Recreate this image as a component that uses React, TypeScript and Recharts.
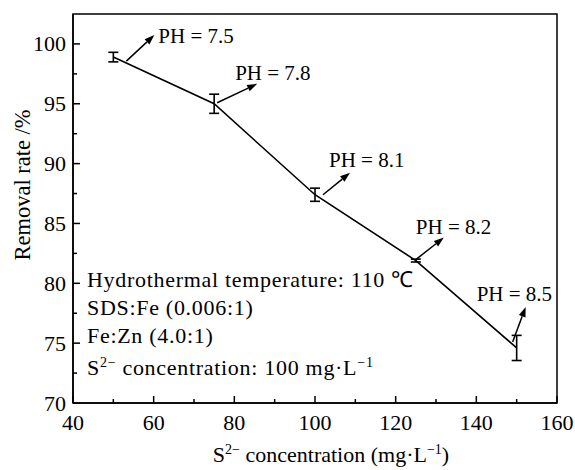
import React from 'react';
import { LineChart, Line, XAxis, YAxis, ErrorBar, ReferenceArea, LabelList } from 'recharts';

document.body.style.margin = '0';

// values
const concentration = [50, 75, 100, 125, 150];
const removalRate = [98.9, 95.0, 87.4, 81.9, 74.6];
const removalError = [0.4, 0.8, 0.55, 0.12, 1.05];
const phLabels = ['7.5', '7.8', '8.1', '8.2', '8.5'];

const xTicks = [40, 50, 60, 70, 80, 90, 100, 110, 120, 130, 140, 150, 160];
const yTicks = [70, 72.5, 75, 77.5, 80, 82.5, 85, 87.5, 90, 92.5, 95, 97.5, 100];

const conditions = ['Hydrothermal temperature: 110 \u2103', 'SDS:Fe (0.006:1)', 'Fe:Zn (4.0:1)'];

const data = concentration.map((c, i) => ({
  c,
  rate: removalRate[i],
  err: removalError[i],
  ph: phLabels[i],
}));

const FONT = 'Liberation Serif';
const W = 575;
const H = 470;

// arrow start / end / text offsets from each point, px
const phArrows = [
  { sx: 13, sy: 4, ex: 41, ey: -22, tx: 45, ty: -21 },
  { sx: 3, sy: -1, ex: 43, ey: -20, tx: 21, ty: -31 },
  { sx: 8, sy: 0, ex: 35, ey: -22, tx: 14, ty: -35 },
  { sx: 0, sy: -1, ex: 28, ey: -23, tx: 0, ty: -34 },
  { sx: -4, sy: -6, ex: 9, ey: -41, tx: -40, ty: -54 },
];

const XTick = (props: any) => {
  const { x, y, payload } = props;
  const major = payload.value % 20 === 0;
  return (
    <g>
      <line x1={x} x2={x} y1={y} y2={y - (major ? 7 : 4)} stroke="#000" strokeWidth={1.5} />
      {major && (
        <text x={x} y={y + 27} textAnchor="middle" style={{ fontFamily: FONT }} fontSize={22} fill="#000">
          {payload.value}
        </text>
      )}
    </g>
  );
};

const YTick = (props: any) => {
  const { x, y, payload } = props;
  const major = payload.value % 5 === 0;
  return (
    <g>
      <line x1={x} x2={x + (major ? 7 : 4)} y1={y} y2={y} stroke="#000" strokeWidth={1.5} />
      {major && (
        <text x={x - 7} y={y + 7.5} textAnchor="end" style={{ fontFamily: FONT }} fontSize={22} fill="#000">
          {payload.value}
        </text>
      )}
    </g>
  );
};

const PhNote = (props: any) => {
  const { x, y, index, value } = props;
  const a = phArrows[index];
  if (!a || x == null) return null;
  const x1 = x + a.sx, y1 = y + a.sy, x2 = x + a.ex, y2 = y + a.ey;
  const len = Math.hypot(x2 - x1, y2 - y1);
  const ux = (x2 - x1) / len, uy = (y2 - y1) / len;
  const hl = 10, hw = 3.5;
  const bx = x2 - ux * hl, by = y2 - uy * hl;
  return (
    <g>
      <line x1={x1} y1={y1} x2={bx} y2={by} stroke="#000" strokeWidth={1.5} />
      <polygon
        points={`${x2},${y2} ${bx - uy * hw},${by + ux * hw} ${bx + uy * hw},${by - ux * hw}`}
        fill="#000"
      />
      <text x={x + a.tx} y={y + a.ty + 7} style={{ fontFamily: FONT }} fontSize={21} fill="#000">
        PH = {value}
      </text>
    </g>
  );
};

export default function App() {
  return (
    <div style={{ position: 'relative', width: W, height: H, background: '#fff' }}>
      <LineChart width={W} height={H} data={data} margin={{ top: 14, right: 18, bottom: 17, left: 13 }}>
        <XAxis
          dataKey="c"
          type="number"
          domain={[40, 160]}
          ticks={xTicks}
          interval={0}
          height={50}
          tickSize={0}
          tickMargin={0}
          tickLine={false}
          axisLine={{ stroke: '#000', strokeWidth: 1.5 }}
          tick={<XTick />}
        />
        <YAxis
          type="number"
          domain={[70, 102.5]}
          ticks={yTicks}
          interval={0}
          width={60}
          tickSize={0}
          tickMargin={0}
          tickLine={false}
          allowDataOverflow
          axisLine={{ stroke: '#000', strokeWidth: 1.5 }}
          tick={<YTick />}
        />
        <ReferenceArea x1={40} x2={160} y1={70} y2={102.5} fill="none" fillOpacity={0} stroke="#000" strokeWidth={1.5} />
        <Line dataKey="rate" stroke="#000" strokeWidth={1.6} dot={false} isAnimationActive={false}>
          <ErrorBar dataKey="err" direction="y" width={5} stroke="#000" strokeWidth={1.6} isAnimationActive={false} />
          <LabelList dataKey="ph" content={<PhNote />} />
        </Line>
      </LineChart>
      <svg width={W} height={H} style={{ position: 'absolute', left: 0, top: 0, pointerEvents: 'none', fontFamily: FONT }}>
        <g fill="#000">
          <g letterSpacing={0.7}>
            {conditions.map((t, i) => (
              <text key={t} x={87} y={287 + i * 28} fontSize={22}>
                {t}
              </text>
            ))}
            <text x={87} y={375} fontSize={22}>
              S<tspan dy={-8} fontSize={14}>2{'\u2212'}</tspan>
              <tspan dy={8} fontSize={22}> concentration: 100 mg·L</tspan>
              <tspan dy={-8} fontSize={14}>{'\u2212'}1</tspan>
            </text>
          </g>
          <text x={331} y={462} fontSize={22} textAnchor="middle">
            S<tspan dy={-8} fontSize={14}>2{'\u2212'}</tspan>
            <tspan dy={8} fontSize={22}> concentration (mg·L</tspan>
            <tspan dy={-8} fontSize={14}>{'\u2212'}1</tspan>
            <tspan dy={8} fontSize={22}>)</tspan>
          </text>
          <text x={22} y={185} fontSize={22.5} textAnchor="middle" transform="rotate(-90 22 185)" dominantBaseline="central">
            Removal rate /%
          </text>
        </g>
      </svg>
    </div>
  );
}
